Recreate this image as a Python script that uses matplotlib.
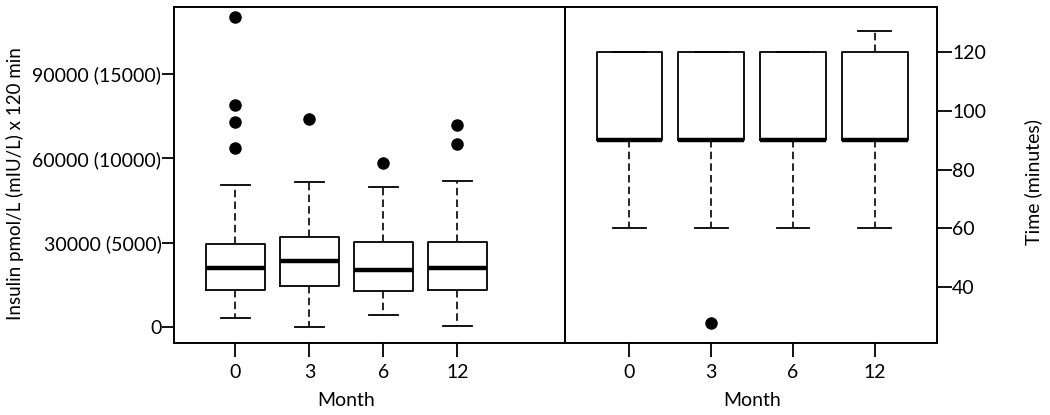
import matplotlib
matplotlib.use("Agg")
import matplotlib.pyplot as plt
import matplotlib.transforms as mtransforms

plt.rcParams['font.family'] = ['Lato', 'DejaVu Sans']

months = ["0", "3", "6", "12"]

# Insulin AUC (pmol/L x 120 min)
ins_whislo = [3100, 0, 4200, 250]
ins_q1 = [13100, 14500, 12800, 13100]
ins_med = [21000, 23400, 20200, 21000]
ins_q3 = [29500, 31850, 30200, 30200]
ins_whishi = [50600, 51700, 49800, 52000]
ins_fliers = [[110400, 79100, 72900, 63600], [74000], [58200], [72000, 65200]]
ins_ticks = [0, 30000, 60000, 90000]
ins_ticklabels = ["0", "30000 (5000)", "60000 (10000)", "90000 (15000)"]

# Time (minutes)
time_whislo = [60, 60, 60, 60]
time_q1 = [90, 90, 90, 90]
time_med = [90, 90, 90, 90]
time_q3 = [120, 120, 120, 120]
time_whishi = [120, 120, 120, 127]
time_fliers = [[], [28], [], []]
time_ticks = [40, 60, 80, 100, 120]


def make_stats(lo, q1, med, q3, hi, fl):
    return [dict(whislo=a, q1=b, med=c, q3=d, whishi=e, fliers=f)
            for a, b, c, d, e, f in zip(lo, q1, med, q3, hi, fl)]


fig = plt.figure(figsize=(10.5, 4.15), dpi=100)
ax1 = fig.add_axes([174 / 1050, 72 / 415, 391 / 1050, 336 / 415])
ax2 = fig.add_axes([565 / 1050, 72 / 415, 372 / 1050, 336 / 415])

box_kw = dict(
    widths=0.8, showfliers=True, patch_artist=False,
    boxprops=dict(color='black', linewidth=1.3),
    medianprops=dict(color='black', linewidth=3.2, solid_capstyle='butt'),
    whiskerprops=dict(color='black', linewidth=1.2, linestyle=(0, (4.5, 2.5))),
    capprops=dict(color='black', linewidth=1.3),
    flierprops=dict(marker='o', markerfacecolor='black', markeredgecolor='black',
                    markersize=8),
    capwidths=0.4,
)

pos = [1, 2, 3, 4]
ax1.bxp(make_stats(ins_whislo, ins_q1, ins_med, ins_q3, ins_whishi, ins_fliers),
        positions=pos, **box_kw)
ax2.bxp(make_stats(time_whislo, time_q1, time_med, time_q3, time_whishi, time_fliers),
        positions=pos, **box_kw)

ax1.set_xlim(0.17, 5.455)
ax1.set_ylim(-5800, 113900)
ax2.set_xlim(0.214, 4.76)
ax2.set_ylim(21.1, 135.2)

fs = 14
for ax in (ax1, ax2):
    ax.set_xticks(pos)
    ax.set_xticklabels(months, fontsize=fs)
    ax.tick_params(axis='x', direction='out', length=10, width=1.3, pad=5)
    for s in ax.spines.values():
        s.set_linewidth(1.4)

ax1.set_yticks(ins_ticks)
ax1.set_yticklabels(ins_ticklabels, fontsize=fs)
ax1.tick_params(axis='y', direction='out', length=9, width=1.3, pad=0)
ax1.set_ylabel("Insulin pmol/L (mIU/L) x 120 min", fontsize=13.5)
ax1.yaxis.label.set_rotation_mode('default')
ax1.yaxis.label.set_verticalalignment('center')
ax1.yaxis.label.set_horizontalalignment('center')
ax1.yaxis.set_label_coords(-159 / 391, 0.475)

ax2.yaxis.tick_right()
ax2.yaxis.set_label_position('right')
ax2.set_yticks(time_ticks)
ax2.set_yticklabels([str(t) for t in time_ticks], fontsize=fs)
ax2.tick_params(axis='y', direction='out', length=11, width=1.3, pad=0)
ax2.set_ylabel("Time (minutes)", fontsize=fs)
ax2.yaxis.label.set_rotation_mode('default')
ax2.yaxis.label.set_verticalalignment('center')
ax2.yaxis.label.set_horizontalalignment('center')
ax2.yaxis.set_label_coords(1 + 96 / 372, 0.48)

for ax in (ax1, ax2):
    tr = mtransforms.blended_transform_factory(ax.transData, ax.transAxes)
    ax.set_xlabel("Month", fontsize=fs)
    ax.xaxis.set_label_coords(2.5, -0.17, transform=tr)
    ax.xaxis.label.set_verticalalignment('center')

fig.savefig("out.png", dpi=100)
